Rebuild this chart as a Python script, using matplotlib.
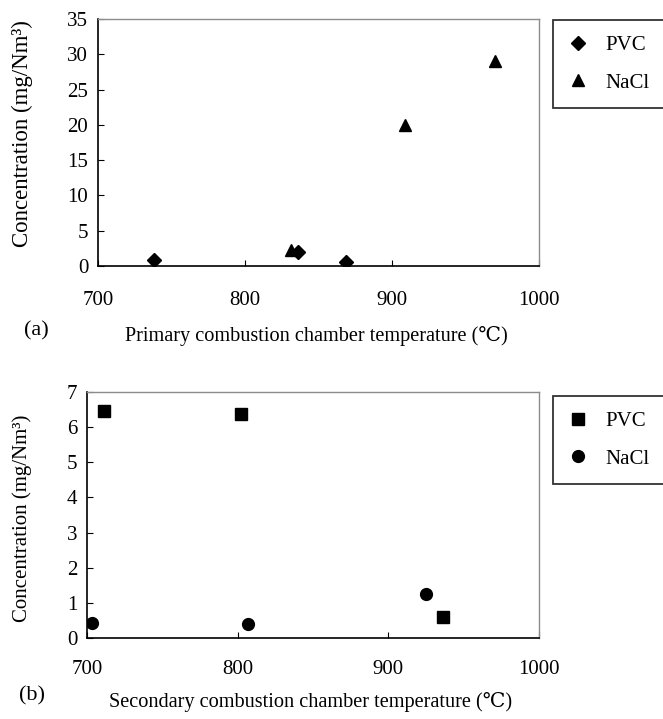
"""Concentration vs. combustion chamber temperature, panels (a) and (b)."""

import matplotlib

matplotlib.use("Agg")
import matplotlib.pyplot as plt

plt.rcParams["font.family"] = ["Liberation Serif", "DejaVu Serif", "Noto Sans CJK JP"]
plt.rcParams["font.size"] = 15

# ---- data -------------------------------------------------------------------
# (a) primary combustion chamber
a_pvc_temp = [738, 836, 869]
a_pvc_conc = [0.8, 2.0, 0.6]
a_nacl_temp = [831, 909, 970]
a_nacl_conc = [2.3, 20.0, 29.0]

# (b) secondary combustion chamber
b_pvc_temp = [711, 802, 936]
b_pvc_conc = [6.47, 6.36, 0.61]
b_nacl_temp = [703, 807, 925]
b_nacl_conc = [0.44, 0.40, 1.25]

x_ticks = [700, 800, 900, 1000]
a_y_ticks = [0, 5, 10, 15, 20, 25, 30, 35]
b_y_ticks = [0, 1, 2, 3, 4, 5, 6, 7]

W, H = 663, 719
fig = plt.figure(figsize=(W / 100, H / 100), dpi=100)


def _axes(left, top, right, bottom):
    return fig.add_axes([left / W, 1 - bottom / H, (right - left) / W, (bottom - top) / H])


def _style(ax, yticks, xpad):
    ax.set_xlim(700, 1000)
    ax.set_ylim(yticks[0], yticks[-1])
    ax.set_xticks(x_ticks)
    ax.set_yticks(yticks)
    ax.tick_params(axis="both", direction="in", length=4, width=0.8, labelsize=15)
    ax.tick_params(axis="x", pad=xpad)
    ax.tick_params(axis="y", pad=7)
    for side in ("left", "bottom"):
        ax.spines[side].set_color("black")
        ax.spines[side].set_linewidth(1.2)
    for side in ("top", "right"):
        ax.spines[side].set_color("#8c8c8c")
        ax.spines[side].set_linewidth(1.0)


def _legend(ax, top_px):
    leg = ax.legend(
        loc="upper left",
        bbox_to_anchor=(553 / W, 1 - top_px / H),
        bbox_transform=fig.transFigure,
        frameon=True,
        fancybox=False,
        edgecolor="black",
        borderpad=0.75,
        labelspacing=0.85,
        handlelength=0.9,
        handletextpad=0.85,
        borderaxespad=0,
        fontsize=15,
    )
    leg.get_frame().set_linewidth(1.3)


# ---- (a) --------------------------------------------------------------------
ax1 = _axes(98, 19, 539, 266)
ax1.plot(a_pvc_temp, a_pvc_conc, "D", color="black", markersize=7, label="PVC")
ax1.plot(a_nacl_temp, a_nacl_conc, "^", color="black", markersize=8.5, label="NaCl")
_style(ax1, a_y_ticks, xpad=18)
_legend(ax1, 20)
fig.text(22 / W, 1 - 134 / H, "Concentration (mg/Nm³)", rotation=90, ha="center", va="center",
         fontsize=16.5)
fig.text(316 / W, 1 - 336 / H, "Primary combustion chamber temperature (℃)", ha="center", va="center",
         fontsize=14.6)
fig.text(36 / W, 1 - 331 / H, "(a)", ha="center", va="center", fontsize=16)

# ---- (b) --------------------------------------------------------------------
ax2 = _axes(87, 392, 539, 638)
ax2.plot(b_pvc_temp, b_pvc_conc, "s", color="black", markersize=8, label="PVC")
ax2.plot(b_nacl_temp, b_nacl_conc, "o", color="black", markersize=8.5, label="NaCl")
_style(ax2, b_y_ticks, xpad=16)
_legend(ax2, 396)
fig.text(22 / W, 1 - 518 / H, "Concentration (mg/Nm³)", rotation=90, ha="center", va="center",
         fontsize=15)
fig.text(311 / W, 1 - 702 / H, "Secondary combustion chamber temperature (℃)", ha="center", va="center",
         fontsize=14.6)
fig.text(32 / W, 1 - 696 / H, "(b)", ha="center", va="center", fontsize=16)

fig.savefig("out.png", dpi=100)
